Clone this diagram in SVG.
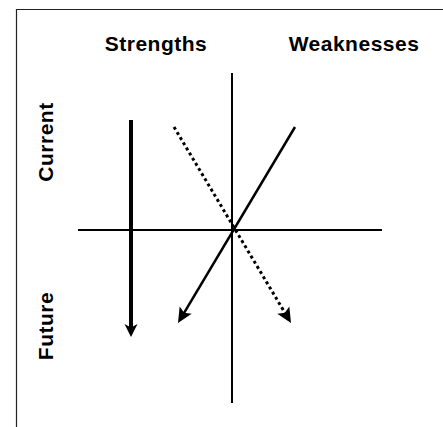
<svg xmlns="http://www.w3.org/2000/svg" width="443" height="427" viewBox="0 0 443 427">
<style>
.lbl{font-family:"Liberation Sans",Arial,sans-serif;font-weight:bold;font-size:21px;letter-spacing:0.5px;fill:#000;text-anchor:middle}
.axis{stroke:#000;stroke-width:2;fill:none}
</style>
<defs>
<marker id="ahV" viewBox="-6 -8 16 16" refX="0" refY="0" markerWidth="16" markerHeight="16" orient="auto" markerUnits="userSpaceOnUse">
<path d="M8,0 L-5,-6.5 L-1.5,0 L-5,6.5 Z" fill="#000"/>
</marker>
<marker id="ahD" viewBox="-8 -8 18 16" refX="0" refY="0" markerWidth="18" markerHeight="16" orient="auto" markerUnits="userSpaceOnUse">
<path d="M9,0 L-6,-7 L-3,0 L-6,7 Z" fill="#000"/>
</marker>
</defs>
<rect width="443" height="427" fill="#fff"/>
<path d="M16.5,430 V9.5 H450" fill="none" stroke="#222" stroke-width="1.2"/>
<g id="labels">
<g id="strengths"><text class="lbl" x="156" y="51">Strengths</text></g>
<g id="weaknesses"><text class="lbl" x="354" y="51">Weaknesses</text></g>
<g id="current"><text class="lbl" transform="translate(53,142) rotate(-90)">Current</text></g>
<g id="future"><text class="lbl" transform="translate(53,326) rotate(-90)">Future</text></g>
</g>
<g id="axes">
<line class="axis" x1="232" y1="73" x2="232" y2="403"/>
<line class="axis" x1="78" y1="230" x2="382" y2="230"/>
</g>
<g id="connectors">
<line x1="131" y1="120" x2="131" y2="329" stroke="#000" stroke-width="4" marker-end="url(#ahV)"/>
<line x1="295" y1="127" x2="182.6" y2="315.3" stroke="#000" stroke-width="2.5" marker-end="url(#ahD)"/>
<line x1="174" y1="127" x2="286.4" y2="315.3" stroke="#000" stroke-width="3" stroke-dasharray="3,3" marker-end="url(#ahD)"/>
</g>
</svg>
